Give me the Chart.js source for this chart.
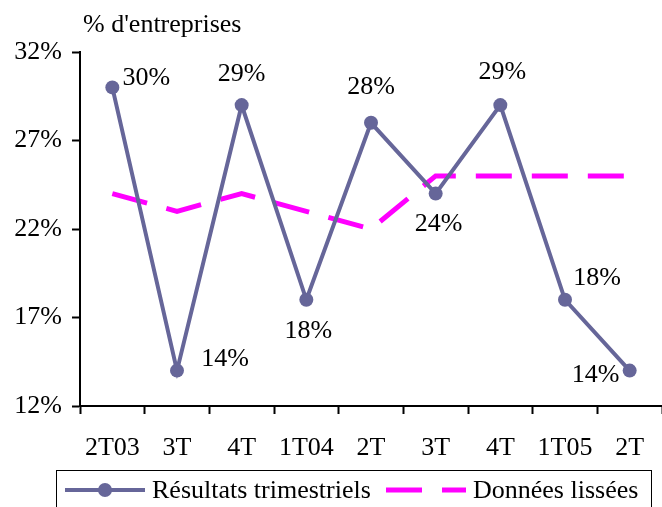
<!DOCTYPE html>
<html>
<head>
<meta charset="utf-8">
<script src="https://cdn.jsdelivr.net/npm/chart.js@4.4.0/dist/chart.umd.min.js"></script>
<style>
  html, body { margin: 0; padding: 0; background: #fff; }
  #wrap { width: 662px; height: 507px; position: relative; }
</style>
</head>
<body>
<div id="wrap"><canvas id="chart1"></canvas></div>
<script>
const quarters = ['2T03', '3T', '4T', '1T04', '2T', '3T', '4T', '1T05', '2T'];
const quarterly = [30, 14, 29, 18, 28, 24, 29, 18, 14];
const smoothed = [24, 23, 24, 23, 22, 25, 25, 25, 25];
const yTicks = [12, 17, 22, 27, 32];

// label placement relative to each point (dx, dy of text centre)
const labelOffsets = [[34, -9], [48, -11], [0, -31], [2, 31], [0, -36], [3, 31], [2, -33], [32, -22], [-34, 5]];

const FONT = '"Liberation Serif", "Times New Roman", serif';

const decor = {
    id: 'decor',
    afterDatasetsDraw(chart) {
        const c = chart.ctx;
        const meta = chart.getDatasetMeta(0);
        c.save();
        c.fillStyle = '#000';
        c.font = '26px ' + FONT;
        c.textAlign = 'center';
        c.textBaseline = 'middle';
        meta.data.forEach((pt, i) => {
            const o = labelOffsets[i];
            c.fillText(quarterly[i] + '%', pt.x + o[0], pt.y + o[1]);
        });
        c.restore();
    },
    afterDraw(chart) {
        const c = chart.ctx;
        c.save();
        // title
        c.fillStyle = '#000';
        c.font = '26px ' + FONT;
        c.textAlign = 'left';
        c.textBaseline = 'middle';
        c.fillText("% d'entreprises", 83, 25);

        // legend box
        c.strokeStyle = '#000';
        c.lineWidth = 1;
        c.strokeRect(56.5, 470.5, 595, 40);
        const ly = 490;
        const ds = chart.data.datasets;
        c.strokeStyle = ds[0].borderColor;
        c.lineWidth = 4;
        c.beginPath(); c.moveTo(65, ly); c.lineTo(145, ly); c.stroke();
        c.fillStyle = ds[0].borderColor;
        c.beginPath(); c.arc(105, ly, 7, 0, Math.PI * 2); c.fill();
        c.fillStyle = '#000';
        c.fillText(ds[0].label, 152, ly + 1);
        c.strokeStyle = ds[1].borderColor;
        c.lineWidth = 5;
        c.beginPath(); c.moveTo(386, ly); c.lineTo(422, ly); c.moveTo(442, ly); c.lineTo(466, ly); c.stroke();
        c.fillText(ds[1].label, 473, ly + 1);
        c.restore();
    }
};

const ctx1 = document.getElementById('chart1').getContext('2d');
const chart1 = new Chart(ctx1, {
    type: 'line',
    data: {
        labels: quarters,
        datasets: [{
            label: 'Résultats trimestriels',
            data: quarterly,
            borderColor: '#666699',
            backgroundColor: '#666699',
            borderWidth: 4,
            pointRadius: 7,
            pointHoverRadius: 7,
            pointBackgroundColor: '#666699',
            pointBorderWidth: 0,
            tension: 0,
            clip: false,
            order: 0
        }, {
            label: 'Données lissées',
            data: smoothed,
            borderColor: '#ff00ff',
            borderWidth: 5,
            borderDash: [36, 20],
            borderCapStyle: 'butt',
            pointRadius: 0,
            tension: 0,
            clip: false,
            order: 1
        }]
    },
    plugins: [decor],
    options: {
        responsive: true,
        maintainAspectRatio: false,
        animation: false,
        layout: { autoPadding: false, padding: { top: 52, right: 0, left: 0, bottom: 0 } },
        plugins: {
            legend: { display: false },
            tooltip: { enabled: false }
        },
        scales: {
            x: {
                offset: true,
                afterFit: (s) => { s.height = 101; s.paddingRight = 0; s.paddingLeft = 0; },
                border: { display: true, color: '#000', width: 2 },
                grid: { offset: true, drawOnChartArea: false, tickLength: 8, tickWidth: 2, color: '#000' },
                ticks: { color: '#000', font: { family: FONT, size: 26 }, padding: 19, maxRotation: 0, autoSkip: false }
            },
            y: {
                min: 12,
                max: 32,
                afterFit: (s) => { s.width = 80; },
                afterBuildTicks: (s) => { s.ticks = yTicks.map(v => ({ value: v })); },
                border: { display: true, color: '#000', width: 2 },
                grid: { drawOnChartArea: false, tickLength: 8, tickWidth: 2, color: '#000' },
                ticks: { color: '#000', font: { family: FONT, size: 26 }, padding: 10, callback: (v) => v + '%' }
            }
        }
    }
});
</script>
</body>
</html>
